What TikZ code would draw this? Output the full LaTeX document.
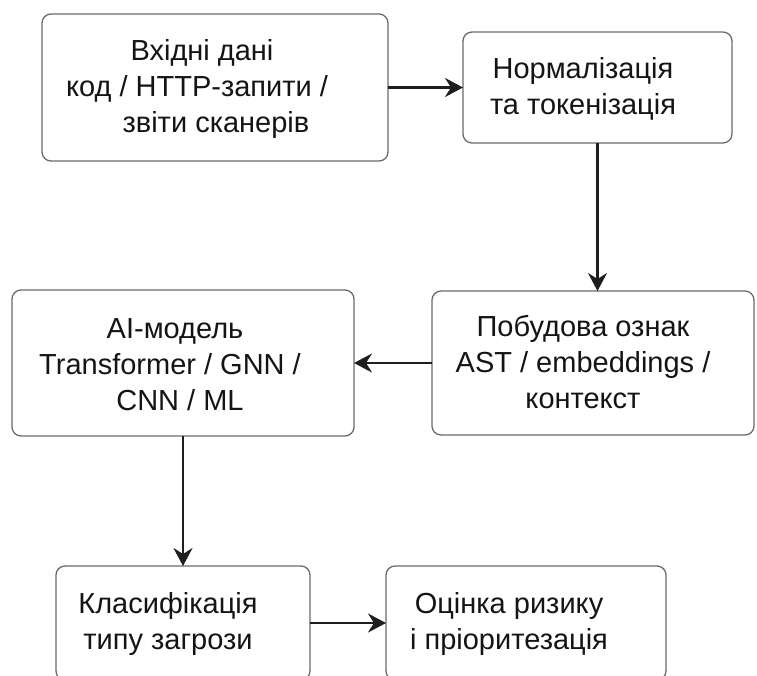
\documentclass[tikz,border=0pt]{standalone}
\usepackage{fontspec}
\setmainfont{Liberation Sans}
\usetikzlibrary{arrows.meta}
\definecolor{boxgray}{HTML}{6A6A6A}
\definecolor{arrowc}{HTML}{1E1E1E}
\definecolor{txt}{HTML}{141414}
% shifts a line within a centred block: \pad{w} adds invisible width
\newcommand\pad[1]{\rule{#1}{0pt}}
\begin{document}
\begin{tikzpicture}[x=1pt,y=-1pt,
  stage/.style={draw=boxgray, line width=1.3pt, rounded corners=9pt,
    inner sep=0pt, outer sep=0pt, anchor=north west},
  caption/.style={align=center, font=\fontsize{29}{36}\selectfont,
    text=txt, inner sep=0pt},
  flow/.style={draw=arrowc, line width=2.2pt,
    -{Stealth[length=18pt,width=19pt,inset=6pt]}}]

\useasboundingbox (0,0) rectangle (757,675);

% process stages
\node[stage, minimum width=346pt, minimum height=147pt] (b1) at (42,14) {};
\node[stage, minimum width=269pt, minimum height=111pt] (b2) at (463,32) {};
\node[stage, minimum width=322pt, minimum height=144pt] (b3) at (432,291) {};
\node[stage, minimum width=342pt, minimum height=146pt] (b4) at (12,290) {};
\node[stage, minimum width=254pt, minimum height=114pt] (b5) at (56,566) {};
\node[stage, minimum width=280pt, minimum height=114pt] (b6) at (386,566) {};

% stage captions
\node[caption] (t1) at (202,89) {Вхідні дані\\код / HTTP-запити /\pad{10pt}\\\pad{28pt}звіти сканерів};
\node[caption] (t2) at (583,89) {Нормалізація\\та токенізація};
\node[caption] (t3) at (583,362) {Побудова ознак\\AST / embeddings /\\контекст};
\node[caption] (t4) at (175,365) {AI-модель\\Transformer / GNN /\pad{10pt}\\\pad{10pt}CNN / ML};
\node[caption] (t5) at (168,624) {Класифікація\\типу загрози};
\node[caption] (t6) at (509,624) {Оцінка ризику\\і пріоритезація};

% flow between stages
\draw[flow] (b1.east) -- (b2.west);
\draw[flow] (b2.south) -- (b2.south |- b3.north);
\draw[flow] (b3.west) -- (b4.east);
\draw[flow] (b4.south) -- (b5.north);
\draw[flow] (b5.east) -- (b6.west);
\end{tikzpicture}
\end{document}
